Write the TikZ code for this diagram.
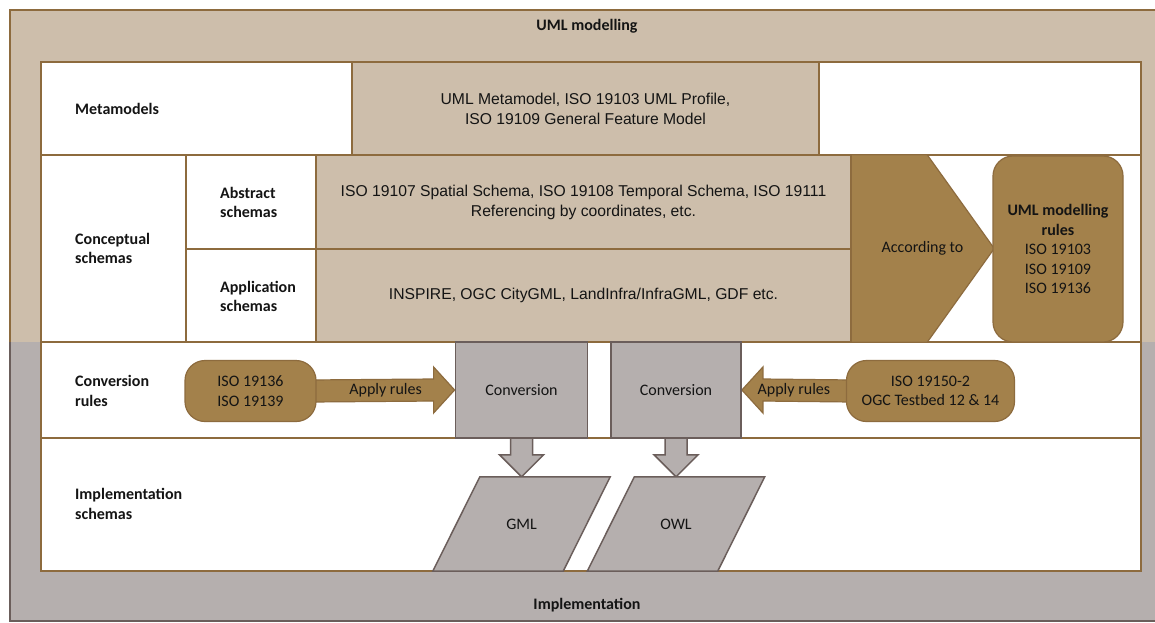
\documentclass[tikz,border=0pt]{standalone}
\usepackage{fontspec}
\setmainfont{Carlito}
\newfontfamily\cellfont{Liberation Sans}
\usetikzlibrary{calc}
\definecolor{tanlight}{HTML}{CDBEAB}
\definecolor{tanfill}{HTML}{A3814B}
\definecolor{tanline}{HTML}{8D6B3E}
\definecolor{greyfill}{HTML}{B5AFAE}
\definecolor{greyline}{HTML}{6B5E5B}
\definecolor{ink}{HTML}{141414}
\pgfdeclarelayer{back}
\pgfdeclarelayer{mid}
\pgfsetlayers{back,mid,main}
\begin{document}
\begin{tikzpicture}[x=1pt,y=-1pt,
  every node/.style={text=ink, inner sep=0pt, align=center, font=\fontsize{16}{19.5}\selectfont},
  rowlabel/.style={anchor=west, align=left, font=\fontsize{16}{19.5}\selectfont\bfseries},
  title/.style={font=\fontsize{16}{19.5}\selectfont\bfseries},
  tancell/.style={fill=tanlight, draw=tanline, line width=1.8pt, font=\cellfont\fontsize{15.7}{20}\selectfont},
  rulebox/.style={fill=tanfill, draw=tanline, line width=1.2pt, rounded corners=20pt},
  convbox/.style={fill=greyfill, draw=greyline, line width=1.8pt},
  blockarrow/.style={fill=tanfill, draw=tanline, line width=1.2pt},
  downarrow/.style={fill=greyfill, draw=greyline, line width=1.5pt},
  frame/.style={draw=tanline, line width=1.8pt},
]
\useasboundingbox (0,0) rectangle (1155,622);

% ---- bands and table grid ----
\begin{pgfonlayer}{back}
  \fill[white] (0,0) rectangle (1155,622);
  \fill[tanlight] (10,10) rectangle (1155,342);
  \fill[greyfill] (10,342) rectangle (1155,621);
  \draw[tanline, line width=2pt] (1155,10) -- (10,10) -- (10,342);
  \draw[greyline, line width=2pt] (10,342) -- (10,621) -- (1155,621);
  \fill[white] (41,62) rectangle (1141,571);
  \draw[frame] (41,155) -- (1141,155)  (41,342) -- (1141,342)  (41,438) -- (1141,438)
    (186,155) -- (186,342)  (316,155) -- (316,342)  (186,249) -- (316,249);
  \draw[frame] (41,62) rectangle (1141,571);
\end{pgfonlayer}

% ---- titles and row labels ----
\node[title] (uml) at (587,26) {UML modelling};
\node[title] (impl) at (587,605) {Implementation};
\node[rowlabel] (lmeta) at (75,108.5) {Metamodels};
\node[rowlabel] (lconc) at (75,248.5) {Conceptual\\schemas};
\node[rowlabel] (labs) at (220,202.5) {Abstract\\schemas};
\node[rowlabel] (lapp) at (220,296.5) {Application\\schemas};
\node[rowlabel] (lconv) at (75,391) {Conversion\\rules};
\node[rowlabel] (limpl) at (75,504) {Implementation\\schemas};

% ---- model cells ----
\node[tancell, minimum width=467pt, minimum height=93pt] (meta) at (585.5,108.5)
  {UML Metamodel, ISO 19103 UML Profile,\\ISO 19109 General Feature Model};
\node[tancell, minimum width=535pt, minimum height=94pt] (abs) at (583.5,202)
  {ISO 19107 Spatial Schema, ISO 19108 Temporal Schema, ISO 19111\\Referencing by coordinates, etc.};
\node[tancell, minimum width=535pt, minimum height=93pt] (app) at (583.5,295.5)
  {INSPIRE, OGC CityGML, LandInfra/InfraGML, GDF etc.};

\node[minimum width=143pt, minimum height=187pt] (acc) at (922.5,248.5) {According to};
\node[rulebox, minimum width=130pt, minimum height=186pt] (rules) at (1058,249)
  {\textbf{UML modelling}\\\textbf{rules}\\ISO 19103\\ISO 19109\\ISO 19136};

% ---- conversion row ----
\node[rulebox, minimum width=131pt, minimum height=61pt] (isoA) at (250.5,391) {ISO 19136\\ISO 19139};
\node[rulebox, minimum width=168pt, minimum height=61pt] (isoB) at (930.5,391) {ISO 19150-2\\OGC Testbed 12 \& 14};
\node[convbox, minimum width=132pt, minimum height=96pt] (convA) at (521.5,390) {Conversion};
\node[convbox, minimum width=130pt, minimum height=96pt] (convB) at (676,390) {Conversion};
\path (isoA.east) -- (convA.west) node[midway] (applyA) {Apply rules};
\path (isoB.west) -- (convB.east) node[midway] (applyB) {Apply rules};

% ---- implementation outputs ----
\node[minimum width=177pt, minimum height=94pt] (gml) at (521.5,524) {GML};
\node[minimum width=177pt, minimum height=94pt] (owl) at (676,524) {OWL};

% ---- block arrows and shapes under the texts ----
\begin{pgfonlayer}{mid}
  \filldraw[blockarrow] (acc.north west) -- ($(acc.north east)+(-67,0)$) -- (acc.east)
    -- ($(acc.south east)+(-67,0)$) -- (acc.south west) -- cycle;
  \filldraw[blockarrow] ($(isoA.east)+(-6,-11)$) -- ($(convA.west)+(-21,-11)$) -- ($(convA.west)+(-21,-23)$)
    -- (convA.west) -- ($(convA.west)+(-21,23)$) -- ($(convA.west)+(-21,11)$) -- ($(isoA.east)+(-6,11)$) -- cycle;
  \filldraw[blockarrow] ($(isoB.west)+(6,-11)$) -- ($(convB.east)+(21,-11)$) -- ($(convB.east)+(21,-23)$)
    -- (convB.east) -- ($(convB.east)+(21,23)$) -- ($(convB.east)+(21,11)$) -- ($(isoB.west)+(6,11)$) -- cycle;
  \filldraw[downarrow] ($(convA.south)+(-11,-4)$) -- ($(gml.north)+(-11,-22)$) -- ($(gml.north)+(-22,-22)$)
    -- (gml.north) -- ($(gml.north)+(22,-22)$) -- ($(gml.north)+(11,-22)$) -- ($(convA.south)+(11,-4)$) -- cycle;
  \filldraw[downarrow] ($(convB.south)+(-11,-4)$) -- ($(owl.north)+(-11,-22)$) -- ($(owl.north)+(-22,-22)$)
    -- (owl.north) -- ($(owl.north)+(22,-22)$) -- ($(owl.north)+(11,-22)$) -- ($(convB.south)+(11,-4)$) -- cycle;
  \filldraw[downarrow] (gml.south west) -- ($(gml.north west)+(47,0)$) -- (gml.north east)
    -- ($(gml.south east)+(-47,0)$) -- cycle;
  \filldraw[downarrow] (owl.south west) -- ($(owl.north west)+(47,0)$) -- (owl.north east)
    -- ($(owl.south east)+(-47,0)$) -- cycle;
\end{pgfonlayer}
\end{tikzpicture}
\end{document}
